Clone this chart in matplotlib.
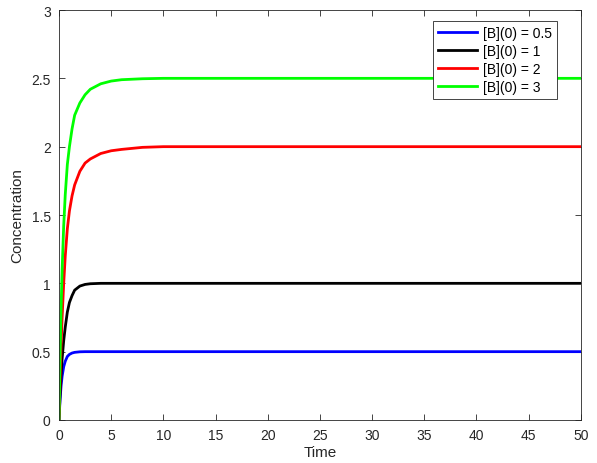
import matplotlib
matplotlib.use("Agg")
import matplotlib.pyplot as plt

# time points
t = [0, 0.1, 0.2, 0.3, 0.45, 0.6, 0.8, 1.0, 1.25, 1.5, 2, 2.5, 3, 4, 5, 6, 8, 10, 50]

# concentration curves for each [B](0)
b05 = [0, 0.15, 0.25, 0.32, 0.39, 0.43, 0.465, 0.48, 0.49, 0.495, 0.499, 0.5, 0.5, 0.5, 0.5, 0.5, 0.5, 0.5, 0.5]
b1 = [0, 0.18, 0.33, 0.45, 0.58, 0.68, 0.79, 0.86, 0.91, 0.95, 0.98, 0.992, 0.997, 1.0, 1.0, 1.0, 1.0, 1.0, 1.0]
b2 = [0, 0.3, 0.55, 0.75, 1.0, 1.2, 1.4, 1.53, 1.64, 1.72, 1.82, 1.88, 1.91, 1.95, 1.97, 1.98, 1.995, 2.0, 2.0]
b3 = [0, 0.45, 0.82, 1.1, 1.42, 1.65, 1.87, 2.0, 2.13, 2.23, 2.32, 2.38, 2.42, 2.46, 2.48, 2.49, 2.497, 2.5, 2.5]

labels = ['[B](0) = 0.5', '[B](0) = 1', '[B](0) = 2', '[B](0) = 3']
colors = ['#0000ff', '#000000', '#ff0000', '#00ff00']

plt.rcParams['font.family'] = ['Liberation Sans', 'DejaVu Sans']
axcol = '#262626'

fig = plt.figure(figsize=(5.97, 4.64), dpi=100)
ax = fig.add_axes([59/597, 43/464, 521.7/597, 410/464])

for y, lab, c in zip([b05, b1, b2, b3], labels, colors):
    ax.plot(t, y, color=c, lw=2, label=lab, solid_joinstyle='round')

ax.set_xlim(0, 50)
ax.set_ylim(0, 3)
ax.set_xticks(range(0, 51, 5))
ax.set_yticks([0, 0.5, 1, 1.5, 2, 2.5, 3])
ax.set_yticklabels(['0', '0.5', '1', '1.5', '2', '2.5', '3'])
ax.tick_params(direction='in', length=4, width=0.6, colors=axcol, labelsize=10,
               top=True, right=True, labeltop=False, labelright=False)
ax.tick_params(axis='x', pad=6)
ax.tick_params(axis='y', pad=6)
for s in ax.spines.values():
    s.set_color(axcol)
    s.set_linewidth(0.6)
ax.set_xlabel('Time', fontsize=11, color=axcol, labelpad=2)
ax.set_ylabel('Concentration', fontsize=11, color=axcol, labelpad=5)

leg = ax.legend(loc='upper right', bbox_to_anchor=(0.954, 0.974), fontsize=10,
                fancybox=False, edgecolor=axcol, framealpha=1, borderaxespad=0,
                handlelength=2.8, labelspacing=0.3, borderpad=0.35, handletextpad=0.45)
leg.get_frame().set_linewidth(0.6)

fig.savefig('out.png', dpi=100)
